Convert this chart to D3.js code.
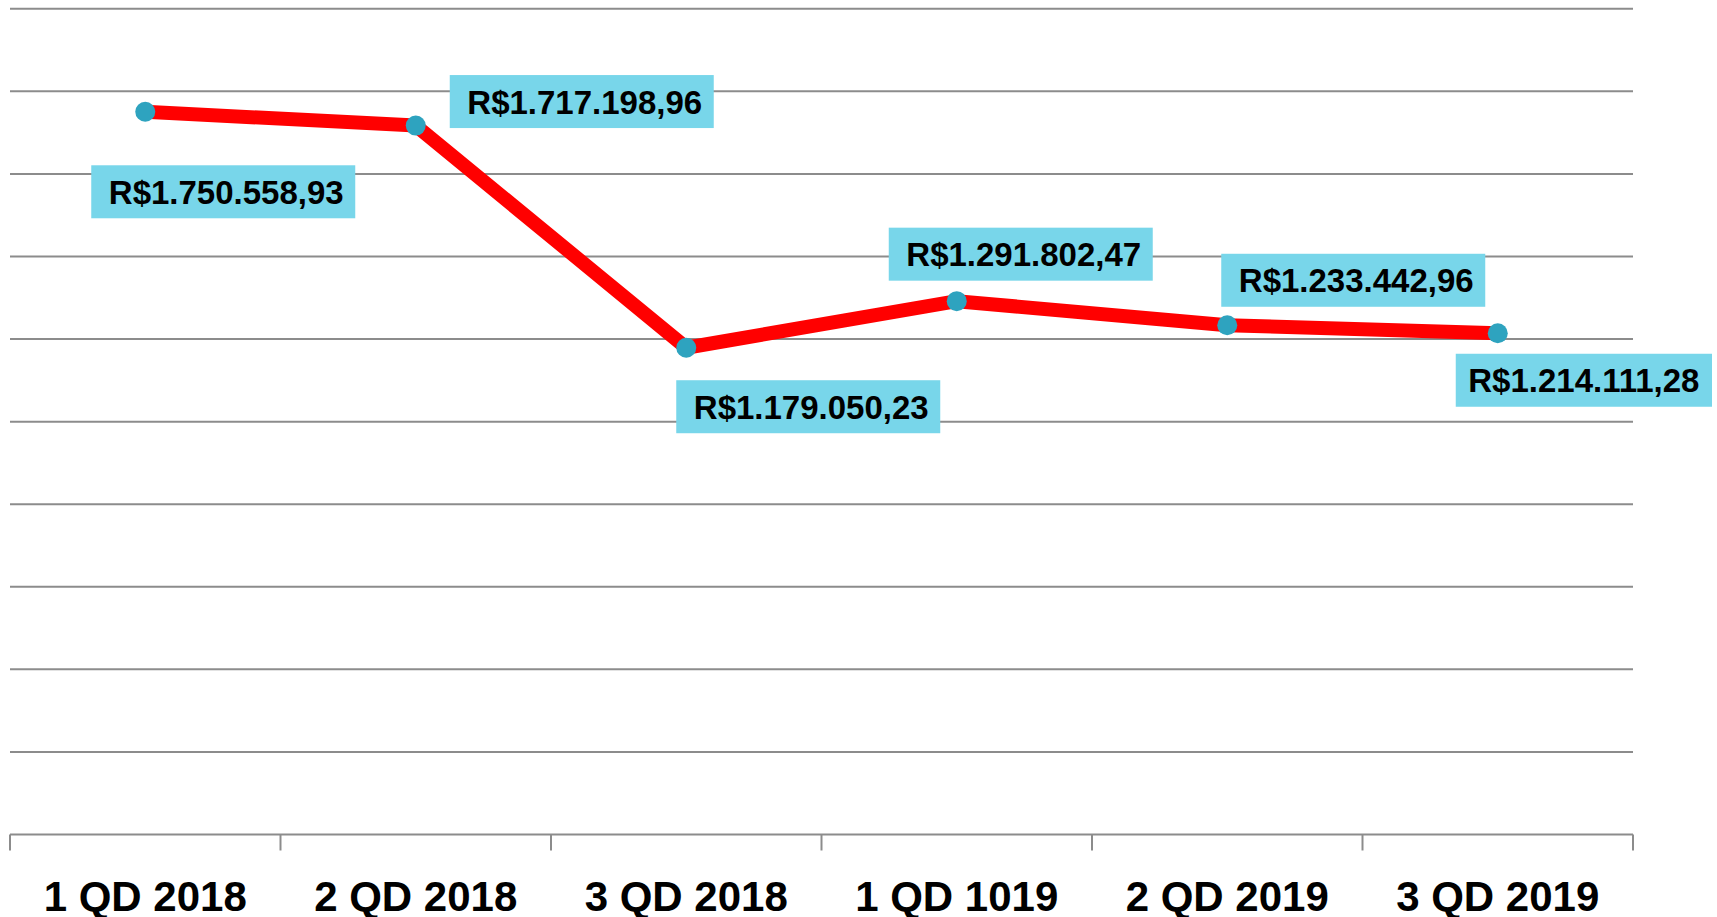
<!DOCTYPE html>
<head>
	<meta charset="utf-8">
	<title>Valores por quadrimestre</title>
	<style>
		body {
			margin: 0;
			padding: 0;
			background-color: #fff;
			font-family: 'Liberation Sans', Arial, sans-serif;
		}

		.grid line {
			stroke: #8c8c8c;
			stroke-width: 2;
		}

		.axis path, .axis line {
			stroke: #8c8c8c;
			stroke-width: 2;
		}

		.axis text {
			font-family: 'Liberation Sans', Arial, sans-serif;
			font-weight: 700;
			font-size: 42px;
			fill: #000;
		}

		.label rect {
			fill: #78d6ea;
		}

		.label text {
			font-family: 'Liberation Sans', Arial, sans-serif;
			font-weight: 700;
			font-size: 33px;
			fill: #000;
		}
	</style>
</head>
<body>
	<div id='vis'></div>

	<script src="https://cdn.jsdelivr.net/npm/d3@7"></script>
	<script>
		// data
		var categories = ['1 QD 2018', '2 QD 2018', '3 QD 2018', '1 QD 1019', '2 QD 2019', '3 QD 2019'];
		var values = [1750558.93, 1717198.96, 1179050.23, 1291802.47, 1233442.96, 1214111.28];
		var labels = ['R$1.750.558,93', 'R$1.717.198,96', 'R$1.179.050,23', 'R$1.291.802,47', 'R$1.233.442,96', 'R$1.214.111,28'];
		var yTicks = [0, 200000, 400000, 600000, 800000, 1000000, 1200000, 1400000, 1600000, 1800000, 2000000];

		// where each label box sits, relative to its point (box centre)
		var labelOffsets = [[78, 80], [166, -24], [122, 59], [64, -47], [126, -45], [90, 47]];

		var visWidth = 1717,
				visHeight = 917,
				plotLeft = 10,
				plotRight = 1633,
				plotTop = 8.8,
				plotBottom = 834.5,
				boxW = 264,
				boxH = 53;

		var svg = d3.select('#vis').append('svg')
			.attr('width', visWidth)
			.attr('height', visHeight);

		var x = d3.scaleBand().domain(categories).range([plotLeft, plotRight]);
		var y = d3.scaleLinear().domain([0, 2000000]).range([plotBottom, plotTop]);

		svg.append('g')
				.attr('class', 'grid')
			.selectAll('line')
			.data(yTicks.slice(1))
			.enter().append('line')
				.attr('x1', plotLeft)
				.attr('x2', plotRight)
				.attr('y1', function(d) { return y(d); })
				.attr('y2', function(d) { return y(d); });

		var axis = svg.append('g')
				.attr('class', 'axis')
				.attr('transform', 'translate(0,' + plotBottom + ')');

		axis.append('line')
			.attr('x1', plotLeft)
			.attr('x2', plotRight);

		var bounds = categories.map(function(c) { return x(c); }).concat([plotRight]);
		axis.selectAll('line.tick')
			.data(bounds)
			.enter().append('line')
				.attr('class', 'tick')
				.attr('x1', function(d) { return d; })
				.attr('x2', function(d) { return d; })
				.attr('y1', 0)
				.attr('y2', 16);

		axis.selectAll('text')
			.data(categories)
			.enter().append('text')
				.attr('text-anchor', 'middle')
				.attr('x', function(d) { return x(d) + x.bandwidth() / 2; })
				.attr('y', 76)
				.text(function(d) { return d; });

		var points = values.map(function(v, i) {
			return {x: x(categories[i]) + x.bandwidth() / 2, y: y(v), label: labels[i], off: labelOffsets[i]};
		});

		var line = d3.line()
			.x(function(d) { return d.x; })
			.y(function(d) { return d.y; });

		svg.append('path')
			.datum(points)
			.attr('d', line)
			.attr('fill', 'none')
			.attr('stroke', '#ff0000')
			.attr('stroke-width', 14)
			.attr('stroke-linejoin', 'round');

		svg.append('g')
				.attr('class', 'markers')
			.selectAll('circle')
			.data(points)
			.enter().append('circle')
				.attr('cx', function(d) { return d.x; })
				.attr('cy', function(d) { return d.y; })
				.attr('r', 10)
				.attr('fill', '#2ea3bf');

		var label = svg.append('g')
				.attr('class', 'labels')
			.selectAll('g')
			.data(points)
			.enter().append('g')
				.attr('class', 'label')
				.each(function(d) {
					var bx = d.x + d.off[0] - boxW / 2,
							by = d.y + d.off[1] - boxH / 2,
							bw = Math.min(boxW, visWidth - 5 - bx);
					d.box = {x: bx, y: by, w: bw};
				});

		label.append('rect')
			.attr('x', function(d) { return d.box.x; })
			.attr('y', function(d) { return d.box.y; })
			.attr('width', function(d) { return d.box.w; })
			.attr('height', boxH);

		label.append('text')
			.attr('text-anchor', 'middle')
			.attr('x', function(d) { return d.box.x + d.box.w / 2 + (d.box.w == boxW ? 3 : 0); })
			.attr('y', function(d) { return d.box.y + boxH / 2 + 12; })
			.text(function(d) { return d.label; });
	</script>
</body>
